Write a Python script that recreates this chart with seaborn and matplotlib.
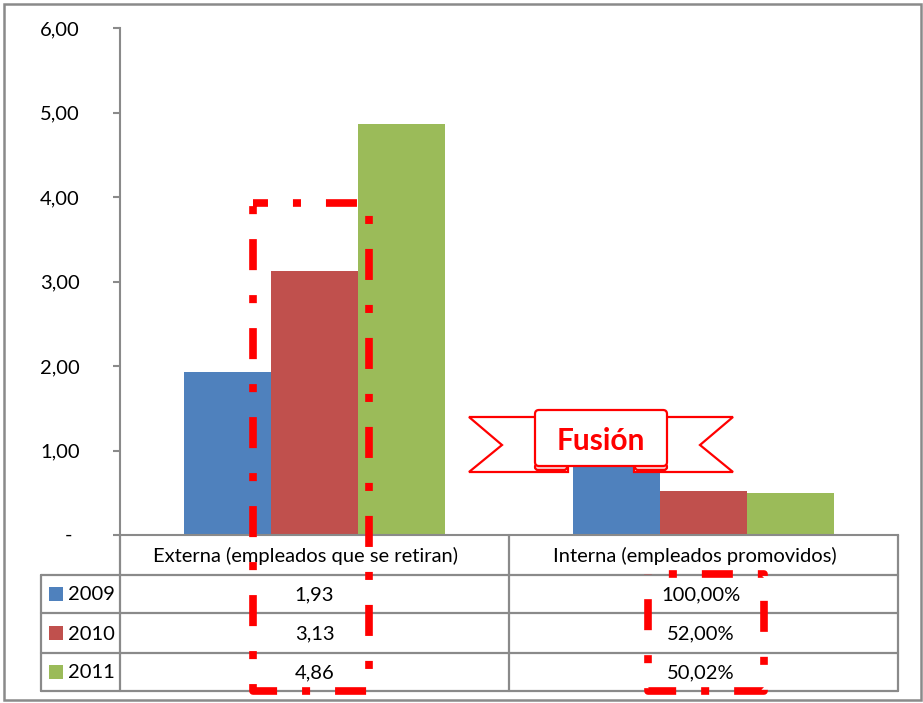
import numpy as np
import pandas as pd
import matplotlib
matplotlib.use("Agg")
import matplotlib.pyplot as plt
import seaborn as sns
from matplotlib.patches import Polygon, FancyBboxPatch, Rectangle
from matplotlib.lines import Line2D

# --- data -------------------------------------------------------------
categories = ["Externa (empleados que se retiran)", "Interna (empleados promovidos)"]
years = ["2009", "2010", "2011"]
externa = [1.93, 3.13, 4.86]
interna = [1.00, 0.52, 0.5002]
y_ticks = [0, 1, 2, 3, 4, 5, 6]

colors = ["#4F81BD", "#C0504D", "#9BBB59"]
grid_gray = "#8A8A8A"
FS = 14.5

def fmt_num(v):
    return f"{v:.2f}".replace(".", ",")

def fmt_pct(v):
    return f"{v * 100:.2f}%".replace(".", ",")

rows = []
for cat, vals in zip(categories, [externa, interna]):
    for yr, v in zip(years, vals):
        rows.append({"categoria": cat, "anio": yr, "valor": v})
df = pd.DataFrame(rows)

sns.set_theme(style="white")
plt.rcParams["font.family"] = ["Lato", "DejaVu Sans"]

W, H = 923, 703
fig = plt.figure(figsize=(W / 100, H / 100), dpi=100)
fig.patch.set_facecolor("white")

# plot area in pixel units
x0, x1, ytop, ybot = 120, 898, 28, 535
ax = fig.add_axes([x0 / W, 1 - ybot / H, (x1 - x0) / W, (ybot - ytop) / H])
sns.barplot(data=df, x="categoria", y="valor", hue="anio", palette=colors,
            width=0.67, gap=0, saturation=1, linewidth=0, legend=False, ax=ax)
ax.set_xlim(-0.5, 1.5)
ax.set_ylim(0, 6)
ax.set_xticks([])
ax.set_xlabel("")
ax.set_ylabel("")
ax.set_yticks(y_ticks)
ax.set_yticklabels([""] + [fmt_num(t) for t in y_ticks[1:]])
ax.tick_params(axis="y", left=True, length=5, width=1.5, color=grid_gray, pad=24,
               labelsize=FS, labelcolor="black")
for s in ["top", "right"]:
    ax.spines[s].set_visible(False)
for s in ["left", "bottom"]:
    ax.spines[s].set_color(grid_gray)
    ax.spines[s].set_linewidth(1.5)
ax.set_facecolor("white")

# overlay in pixel coordinates for the data table and annotations
ov = fig.add_axes([0, 0, 1, 1], zorder=5)
ov.set_xlim(0, W)
ov.set_ylim(H, 0)
ov.axis("off")

ov.text(72, ybot, "-", ha="right", va="center", fontsize=FS, color="black")

# data table
r_top, r_rows = 575, [575, 613, 653, 691]
col_l, col_mid = 41, 509
lw_grid = 1.6
for y in r_rows:
    ov.add_line(Line2D([col_l, x1], [y, y], color=grid_gray, lw=lw_grid))
ov.add_line(Line2D([col_l, col_l], [r_top, r_rows[-1]], color=grid_gray, lw=lw_grid))
for x in [x0, col_mid, x1]:
    ov.add_line(Line2D([x, x], [ybot, r_rows[-1]], color=grid_gray, lw=lw_grid))

cat_centers = [(x0 + col_mid) / 2, (col_mid + x1) / 2]
for cx, cat in zip(cat_centers, categories):
    ov.text(cx - 9, (ybot + r_top) / 2 + 1, cat, ha="center", va="center",
            fontsize=FS, color="black")

for i, yr in enumerate(years):
    yc = (r_rows[i] + r_rows[i + 1]) / 2
    ov.add_patch(Rectangle((49, yc - 7), 14, 14, color=colors[i], lw=0))
    ov.text(68, yc + 1, yr, ha="left", va="center", fontsize=FS, color="black")
    ov.text(cat_centers[0], yc + 1, fmt_num(externa[i]), ha="center", va="center",
            fontsize=FS, color="black")
    ov.text(cat_centers[1] - 3, yc + 1, fmt_pct(interna[i]), ha="center", va="center",
            fontsize=FS, color="black")

# dash-dot highlight frames (pattern in units of line width)
red = "#FF0000"
frame_lw = 5.5
pattern = (4.06, 3.27, 1.05, 3.27)
for (l, r, t, b), off in [((253, 369, 203, 691), 2.1), ((648, 764, 574, 691), 4.6)]:
    ov.add_line(Line2D([l, r, r, l, l], [t, t, b, b, t], color=red, lw=frame_lw,
                       linestyle=(off, pattern), dash_capstyle="butt",
                       solid_capstyle="butt"))

# "Fusión" ribbon
rib_lw = 1.6
left_tail = [(540, 417), (469, 417), (502, 445), (469, 472), (568, 472), (568, 466), (540, 466)]
right_tail = [(662, 417), (733, 417), (700, 445), (733, 472), (634, 472), (634, 466), (662, 466)]
for pts in [left_tail, right_tail]:
    ov.add_patch(Polygon(pts, closed=True, facecolor="white", edgecolor=red, lw=rib_lw))
for cx in [551, 651]:
    ov.add_patch(FancyBboxPatch((cx - 16, 464), 32, 6, boxstyle="round,pad=0,rounding_size=3",
                                facecolor="#F4D0D0", edgecolor=red, lw=rib_lw))
ov.add_patch(FancyBboxPatch((535, 410), 132, 56, boxstyle="round,pad=0,rounding_size=4",
                            facecolor="white", edgecolor=red, lw=rib_lw))
ov.text(601, 441, "Fusión", ha="center", va="center", fontsize=21.5,
        fontweight="bold", color=red)

# outer frame
ov.add_patch(Rectangle((4, 4), 917, 696, fill=False, edgecolor=grid_gray, lw=1.8))

fig.savefig("out.png", dpi=100, facecolor="white")
